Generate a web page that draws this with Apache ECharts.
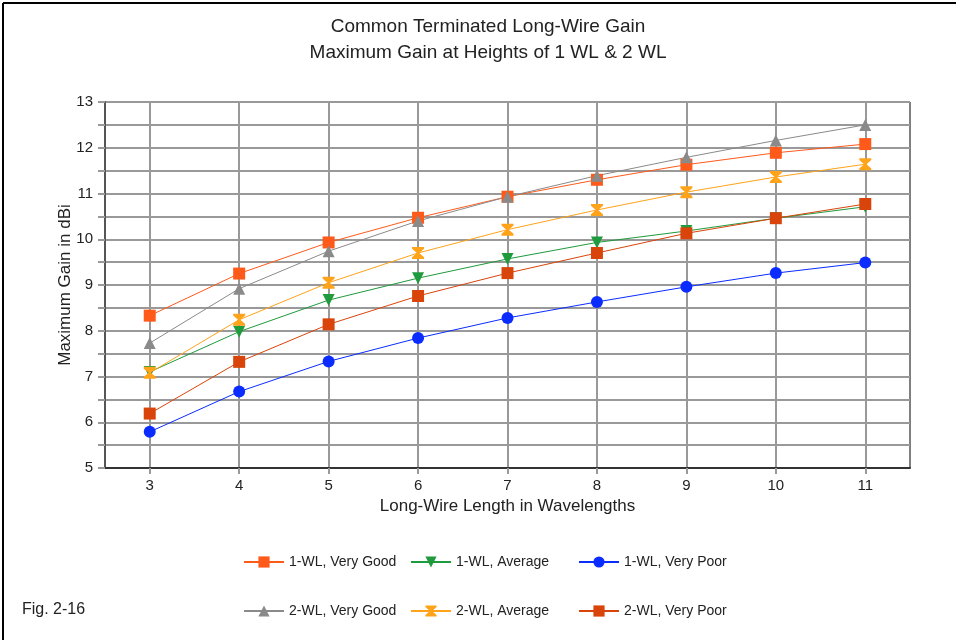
<!DOCTYPE html>
<html>
<head>
<meta charset="utf-8">
<script src="https://cdn.jsdelivr.net/npm/echarts@6/dist/echarts.min.js"></script>
<style>
  html, body { margin: 0; padding: 0; background: #fff; }
  #chart { width: 956px; height: 640px; }
</style>
</head>
<body>
<div id="chart"></div>
<script>
// wire length in wavelengths
var lengths = [3, 4, 5, 6, 7, 8, 9, 10, 11];

// max gain (dBi)
var wl1VeryGood = [8.33, 9.25, 9.93, 10.47, 10.93, 11.30, 11.63, 11.89, 12.08];
var wl1Average  = [7.10, 7.98, 8.67, 9.15, 9.57, 9.93, 10.18, 10.46, 10.71];
var wl1VeryPoor = [5.79, 6.67, 7.33, 7.84, 8.28, 8.63, 8.96, 9.26, 9.49];
var wl2VeryGood = [7.73, 8.92, 9.74, 10.40, 10.93, 11.39, 11.79, 12.16, 12.50];
var wl2Average  = [7.08, 8.24, 9.05, 9.70, 10.21, 10.64, 11.03, 11.36, 11.64];
var wl2VeryPoor = [6.19, 7.32, 8.14, 8.76, 9.26, 9.70, 10.13, 10.46, 10.77];

var seriesNames = ['1-WL, Very Good', '1-WL, Average', '1-WL, Very Poor',
                   '2-WL, Very Good', '2-WL, Average', '2-WL, Very Poor'];
var xTicks = [3, 4, 5, 6, 7, 8, 9, 10, 11];

var font = 'Liberation Sans, Arial, sans-serif';
var hourglass = 'path://M0,0H10V1.5L6,5L10,8.5V10H0V8.5L4,5L0,1.5Z';

function pairs(ys) {
    var out = [];
    for (var i = 0; i < lengths.length; i++) {
        out.push([lengths[i], ys[i]]);
    }
    return out;
}

function makeSeries(name, ys, color, symbol, size) {
    return {
        name: name,
        type: 'line',
        data: pairs(ys),
        symbol: symbol,
        symbolSize: size,
        showAllSymbol: true,
        color: color,
        lineStyle: { width: 1, color: color },
        itemStyle: { color: color, borderWidth: 0 },
        emphasis: { disabled: true },
        z: 3
    };
}

var myChart = echarts.init(document.getElementById('chart'), null, { renderer: 'canvas' });

var legendBase = {
    orient: 'vertical',
    itemWidth: 40,
    itemHeight: 14,
    itemGap: 35,
    textStyle: { fontFamily: font, fontSize: 14, color: '#222' },
    selectedMode: false
};

var option = {
    backgroundColor: '#fff',
    animation: false,
    title: {
        text: 'Common Terminated Long-Wire Gain\nMaximum Gain at Heights of 1 WL & 2 WL',
        left: 483,
        textAlign: 'center',
        top: 9,
        textStyle: { fontFamily: font, fontSize: 19, fontWeight: 'normal', color: '#222', lineHeight: 26 }
    },
    legend: [
        Object.assign({ data: [seriesNames[0], seriesNames[3]], left: 238, top: 550 }, legendBase),
        Object.assign({ data: [seriesNames[1], seriesNames[4]], left: 405, top: 550 }, legendBase),
        Object.assign({ data: [seriesNames[2], seriesNames[5]], left: 573, top: 550 }, legendBase)
    ],
    grid: {
        left: 105, right: 46, top: 102, bottom: 172,
        show: true, borderColor: '#000', borderWidth: 1, backgroundColor: 'transparent'
    },
    xAxis: {
        type: 'value',
        min: 2.5,
        max: 11.5,
        interval: 0.5,
        name: 'Long-Wire Length in Wavelengths',
        nameLocation: 'middle',
        nameGap: 29,
        nameTextStyle: { fontFamily: font, fontSize: 17, color: '#222' },
        axisLine: { show: true, onZero: false, lineStyle: { color: '#333', width: 2 } },
        axisTick: { show: true, inside: false, length: 6, customValues: xTicks, lineStyle: { color: '#999', width: 2 } },
        axisLabel: {
            fontFamily: font, fontSize: 15, color: '#222', margin: 10,
            customValues: xTicks,
            formatter: function (v) { return v % 1 === 0 ? String(v) : ''; }
        },
        splitLine: { show: true, lineStyle: { color: '#999', width: 2 } }
    },
    yAxis: {
        type: 'value',
        min: 5,
        max: 13,
        interval: 0.5,
        name: 'Maximum Gain in dBi',
        nameLocation: 'middle',
        nameGap: 31,
        nameMoveOverlap: false,
        nameTextStyle: { fontFamily: font, fontSize: 17, color: '#222' },
        axisLine: { show: true, lineStyle: { color: '#555', width: 2 } },
        axisTick: { show: true, inside: false, length: 7, lineStyle: { color: '#999', width: 2 } },
        axisLabel: {
            fontFamily: font, fontSize: 15, color: '#222', margin: 12,
            formatter: function (v) { return v % 1 === 0 ? String(v) : ''; }
        },
        splitLine: { show: true, lineStyle: { color: '#999', width: 2 } }
    },
    graphic: [
        { type: 'line', shape: { x1: 3, y1: 3, x2: 956, y2: 3 }, style: { stroke: '#000', lineWidth: 2 } },
        { type: 'line', shape: { x1: 3, y1: 3, x2: 3, y2: 640 }, style: { stroke: '#000', lineWidth: 2 } },
        { type: 'text', left: 22, top: 602, style: { text: 'Fig. 2-16', font: '16px ' + font, fill: '#222' } }
    ],
    series: [
        makeSeries(seriesNames[0], wl1VeryGood, '#ff5a1a', 'rect', 12),
        makeSeries(seriesNames[1], wl1Average, '#1f9a3c', 'triangle', 12),
        makeSeries(seriesNames[2], wl1VeryPoor, '#0a2cff', 'circle', 12),
        makeSeries(seriesNames[3], wl2VeryGood, '#8a8a8a', 'triangle', 12),
        makeSeries(seriesNames[4], wl2Average, '#ffa31a', hourglass, 12),
        makeSeries(seriesNames[5], wl2VeryPoor, '#d9440a', 'rect', 12)
    ]
};

// green markers point downward
option.series[1].symbolRotate = 180;

myChart.setOption(option);
</script>
</body>
</html>
